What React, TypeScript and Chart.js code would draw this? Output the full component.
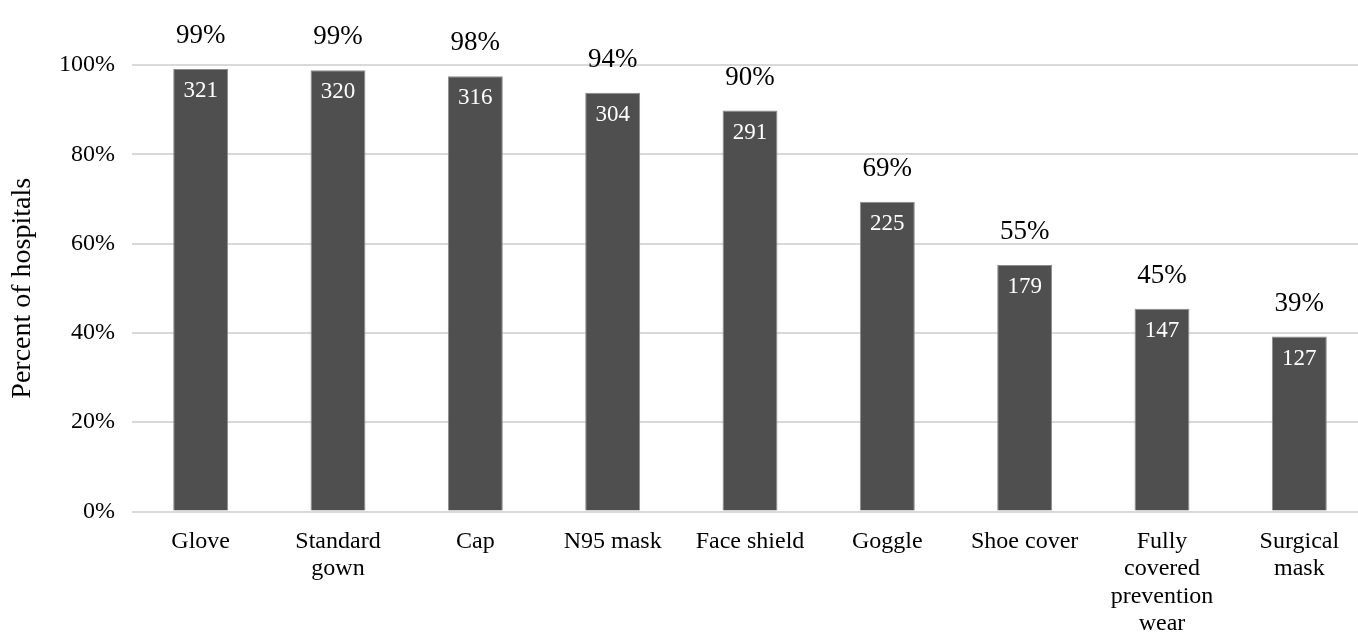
import { useEffect, useRef } from 'react';
import { Chart, registerables } from 'chart.js';

Chart.register(...registerables);

// Protective equipment categories (multi-line tick labels)
const categories: string[][] = [
  ['Glove'],
  ['Standard', 'gown'],
  ['Cap'],
  ['N95 mask'],
  ['Face shield'],
  ['Goggle'],
  ['Shoe cover'],
  ['Fully', 'covered', 'prevention', 'wear'],
  ['Surgical', 'mask'],
];

// Share of hospitals using each item (%)
const percentOfHospitals = [99.1, 98.8, 97.5, 93.8, 89.8, 69.4, 55.2, 45.4, 39.2];

// Number of hospitals using each item
const hospitalCounts = [321, 320, 316, 304, 291, 225, 179, 147, 127];

// Y axis tick values (%)
const yTickValues = [0, 20, 40, 60, 80, 100];

const FONT = '"Liberation Serif", "Times New Roman", serif';

const barLabels = {
  id: 'barLabels',
  afterDatasetsDraw(chart: any) {
    const meta = chart.getDatasetMeta(0);
    const ctx = chart.ctx as CanvasRenderingContext2D;
    ctx.save();
    ctx.textAlign = 'center';
    ctx.textBaseline = 'middle';
    meta.data.forEach((bar: any, i: number) => {
      const { x, y } = bar.getProps(['x', 'y'], true);
      ctx.fillStyle = '#000000';
      ctx.font = `27px ${FONT}`;
      ctx.fillText(`${Math.round(percentOfHospitals[i])}%`, x, y - 33);
      ctx.fillStyle = '#ffffff';
      ctx.font = `23px ${FONT}`;
      ctx.fillText(String(hospitalCounts[i]), x, y + 22);
    });
    ctx.restore();
  },
};

export default function App() {
  const canvasRef = useRef<HTMLCanvasElement | null>(null);

  useEffect(() => {
    if (!canvasRef.current) return;
    const chart = new Chart(canvasRef.current, {
      type: 'bar',
      data: {
        labels: categories,
        datasets: [
          {
            data: percentOfHospitals,
            backgroundColor: '#4f4f4f',
            borderColor: '#8c8c8c',
            borderWidth: 1,
            barPercentage: 0.4,
            categoryPercentage: 1.0,
          },
        ],
      },
      options: {
        animation: false,
        responsive: false,
        maintainAspectRatio: false,
        layout: { padding: { top: 65, bottom: 7, left: 0, right: 0 } },
        plugins: {
          legend: { display: false },
          tooltip: { enabled: false },
          title: { display: false },
        },
        scales: {
          x: {
            offset: true,
            grid: { display: false, drawTicks: false },
            border: { display: false },
            ticks: {
              color: '#000000',
              font: { family: FONT, size: 24, lineHeight: 1.15 },
              padding: 16,
              maxRotation: 0,
              autoSkip: false,
            },
            afterFit(scale: any) {
              scale.height = 126.5;
            },
          },
          y: {
            min: 0,
            max: 100,
            grid: { color: '#d9d9d9', lineWidth: 2, drawTicks: false },
            border: { display: false },
            ticks: {
              color: '#000000',
              font: { family: FONT, size: 24 },
              padding: 17,
              callback: (v: any) => `${v}%`,
            },
            afterBuildTicks(scale: any) {
              scale.ticks = yTickValues.map((v) => ({ value: v }));
            },
            afterFit(scale: any) {
              scale.width = 132;
            },
            title: {
              display: true,
              text: 'Percent of hospitals',
              color: '#000000',
              font: { family: FONT, size: 28 },
              padding: { top: 6, bottom: 18 },
            },
          },
        },
      },
      plugins: [barLabels],
    });
    return () => chart.destroy();
  }, []);

  return (
    <div
      style={{
        position: 'fixed',
        left: 0,
        top: 0,
        width: 1358,
        height: 635,
        overflow: 'hidden',
        background: '#ffffff',
      }}
    >
      <canvas
        ref={canvasRef}
        width={1368}
        height={645}
        style={{ display: 'block', width: 1368, height: 645 }}
      />
    </div>
  );
}
